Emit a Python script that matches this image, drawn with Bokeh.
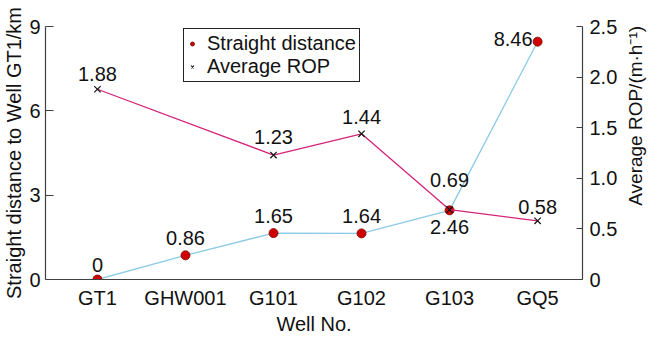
import math
from bokeh.plotting import figure
from bokeh.layouts import row
from bokeh.models import (Range1d, LinearAxis, FixedTicker, NumeralTickFormatter,
                          Legend, LegendItem, ColumnDataSource)
from bokeh.embed import file_html
from bokeh.resources import INLINE
from bokeh.core.properties import value

wells = ["GT1", "GHW001", "G101", "G102", "G103", "GQ5"]
distance = [0, 0.86, 1.65, 1.64, 2.46, 8.46]
rop = [1.88, None, 1.23, 1.44, 0.69, 0.58]
dist_labels = ["0", "0.86", "1.65", "1.64", "2.46", "8.46"]
rop_labels = ["1.88", "", "1.23", "1.44", "0.69", "0.58"]
left_ticks = [0, 3, 6, 9]
right_ticks = [0, 0.5, 1.0, 1.5, 2.0, 2.5]
right_title = "Average ROP/(m·h⁻¹)"

FONT = "Liberation Sans"
FS = "20px"
AX = "#404040"
TXT = "#111111"

p = figure(width=620, height=337, output_backend="svg", toolbar_location=None,
           x_range=Range1d(-0.59, 5.51), y_range=Range1d(0, 9),
           min_border_left=44, min_border_right=35, min_border_top=26, min_border_bottom=57)
p.outline_line_color = None
p.xgrid.visible = False
p.ygrid.visible = False

p.extra_y_ranges = {"rop": Range1d(0, 2.5)}

xs = list(range(len(wells)))

# distance series
p.line(xs, distance, line_color="#8ccbe6", line_width=1.3)
dist_r = p.scatter(xs, distance, marker="circle", size=9, fill_color="#d10000",
                   line_color="#7a0000", line_width=0.8)

# rop series (skip missing)
rx = [x for x, v in zip(xs, rop) if v is not None]
ry = [v for v in rop if v is not None]
p.line(rx, ry, line_color="#d4237a", line_width=1.3, y_range_name="rop")
rop_r = p.scatter(rx, ry, marker="x", size=9, line_color="#111111", line_width=1.2,
                  y_range_name="rop")

# labels for distance
d_xoff = [0, 0, 0, 0, 0, -5]
d_yoff = [-15, -17, -17, -17, 17, -3]
d_align = ["center"] * 5 + ["right"]
src_d = ColumnDataSource(dict(x=xs, y=distance, t=dist_labels, xo=d_xoff, yo=d_yoff, al=d_align))
p.text(x="x", y="y", text="t", source=src_d, x_offset="xo", y_offset="yo",
       text_align="al", text_baseline="middle", text_font=value(FONT),
       text_font_size=FS, text_color=TXT)

rl = [l for l, v in zip(rop_labels, rop) if v is not None]
r_yoff = [-15, -18, -17, -30, -14]
src_r = ColumnDataSource(dict(x=rx, y=ry, t=rl, yo=r_yoff))
p.text(x="x", y="y", text="t", source=src_r, y_offset="yo", text_align="center",
       text_baseline="middle", text_font=value(FONT), text_font_size=FS,
       text_color=TXT, y_range_name="rop")

# axes
xa = p.xaxis[0]
xa.ticker = FixedTicker(ticks=xs)
xa.major_label_overrides = {i: w for i, w in enumerate(wells)}
xa.major_tick_in = 0
xa.major_tick_out = 0
xa.axis_label = "Well No."
xa.major_label_standoff = 7
xa.axis_label_standoff = 1

ya = p.yaxis[0]
ya.ticker = FixedTicker(ticks=left_ticks)
ya.major_tick_in = 8
ya.major_tick_out = 0
ya.axis_label = "Straight distance to Well GT1/km"
ya.major_label_standoff = 5
ya.axis_label_standoff = 1

ra = LinearAxis(y_range_name="rop")
ra.ticker = FixedTicker(ticks=right_ticks)
ra.formatter = NumeralTickFormatter(format="0.0")
ra.major_label_overrides = {0: "0"}
ra.major_tick_in = 6
ra.major_tick_out = 0
ra.major_label_standoff = 7
p.add_layout(ra, "right")

for ax in [xa, ya, ra]:
    ax.minor_tick_line_color = None
    ax.axis_line_color = AX
    ax.axis_line_width = 1.2
    ax.major_tick_line_color = AX
    ax.major_tick_line_width = 1.2
    ax.major_label_text_font = FONT
    ax.major_label_text_font_size = FS
    ax.major_label_text_color = TXT
    ax.axis_label_text_font = FONT
    ax.axis_label_text_font_size = FS
    ax.axis_label_text_font_style = "normal"
    ax.axis_label_text_color = TXT

legend = Legend(items=[LegendItem(label="Straight distance", renderers=[dist_r]),
                       LegendItem(label="Average ROP", renderers=[rop_r])],
                location=(138, 197))
legend.label_text_font = FONT
legend.label_text_font_size = "20px"
legend.label_text_color = TXT
legend.border_line_color = "#222222"
legend.border_line_width = 1.2
legend.border_line_alpha = 1.0
legend.glyph_width = 10
legend.glyph_height = 23
legend.label_height = 23
legend.label_standoff = 10
legend.padding = 3
legend.spacing = 0
legend.margin = 0
legend.background_fill_color = "white"
legend.background_fill_alpha = 1
p.add_layout(legend, "center")

# narrow strip holding the right-axis title, reading bottom to top
p2 = figure(width=30, height=337, output_backend="svg", toolbar_location=None,
            x_range=Range1d(0, 1), y_range=Range1d(0, 337),
            x_axis_type=None, y_axis_type=None,
            min_border_left=0, min_border_right=0, min_border_top=0, min_border_bottom=0)
p2.outline_line_color = None
p2.xgrid.visible = False
p2.ygrid.visible = False
p2.text(x=[0.5], y=[218], text=[right_title], angle=math.pi / 2,
        text_align="center", text_baseline="middle", text_font=value(FONT),
        text_font_size="19px", text_color=TXT)

layout = row(p, p2, spacing=0)
open("out.html", "w").write(file_html(layout, INLINE))
